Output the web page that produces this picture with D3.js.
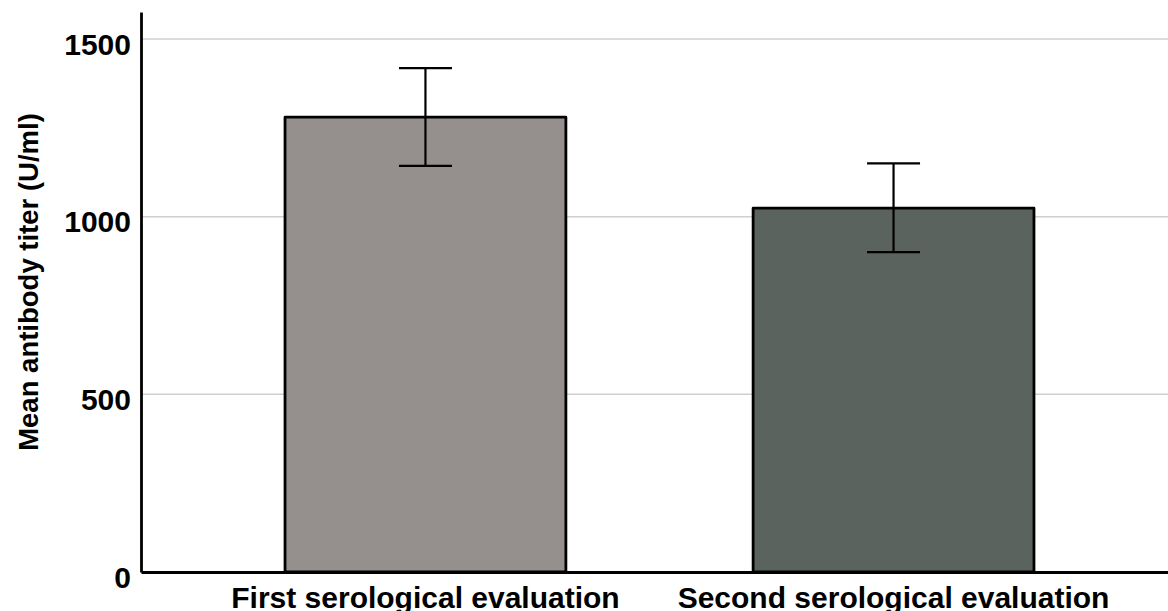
<!DOCTYPE html>
<html>
<head>
<meta charset="utf-8">
<script src="https://cdn.jsdelivr.net/npm/d3@7"></script>
<style>
  body { margin: 0; background: #fff; }
  text { font-family: "Liberation Sans", Arial, sans-serif; font-weight: bold; fill: #000; }
</style>
</head>
<body>
<script>
  // data
  const groups = ["First serological evaluation", "Second serological evaluation"];
  const means = [1280, 1024];
  const lower = [1143, 900];
  const upper = [1418, 1150];
  const yTicks = [0, 500, 1000, 1500];
  const barColors = ["#958f8e", "#5a635d"];

  const w = 1168;
  const h = 611;
  const plotLeft = 141;
  const plotBottom = 572;
  const plotTop = 12;

  const x = d3.scaleBand()
              .domain(groups)
              .range([plotLeft, 1178])
              .paddingInner(0.4)
              .paddingOuter(0.3077);

  const y = d3.scaleLinear()
              .domain([0, 1576])
              .range([plotBottom, plotTop]);

  const svg = d3.select("body")
                .append("svg")
                .attr("width", w)
                .attr("height", h);

  // grid lines
  svg.selectAll("line.grid")
     .data(yTicks.filter(t => t > 0))
     .enter()
     .append("line")
     .attr("class", "grid")
     .attr("x1", plotLeft)
     .attr("x2", w)
     .attr("y1", d => y(d))
     .attr("y2", d => y(d))
     .attr("stroke", "#cfcfcf")
     .attr("stroke-width", 1.5);

  // bars
  svg.selectAll("rect.bar")
     .data(groups)
     .enter()
     .append("rect")
     .attr("class", "bar")
     .attr("x", d => x(d))
     .attr("y", (d, i) => y(means[i]))
     .attr("width", x.bandwidth())
     .attr("height", (d, i) => y(0) - y(means[i]))
     .attr("fill", (d, i) => barColors[i])
     .attr("stroke", "#000")
     .attr("stroke-width", 2.8)
     .attr("stroke-linejoin", "round");

  // error bars
  const capW = 53;
  const err = svg.selectAll("g.err")
                 .data(groups)
                 .enter()
                 .append("g")
                 .attr("class", "err")
                 .attr("stroke", "#000")
                 .attr("stroke-width", 2.2);

  err.append("line")
     .attr("x1", d => x(d) + x.bandwidth() / 2)
     .attr("x2", d => x(d) + x.bandwidth() / 2)
     .attr("y1", (d, i) => y(lower[i]))
     .attr("y2", (d, i) => y(upper[i]));

  err.append("line")
     .attr("x1", d => x(d) + x.bandwidth() / 2 - capW / 2)
     .attr("x2", d => x(d) + x.bandwidth() / 2 + capW / 2)
     .attr("y1", (d, i) => y(upper[i]))
     .attr("y2", (d, i) => y(upper[i]));

  err.append("line")
     .attr("x1", d => x(d) + x.bandwidth() / 2 - capW / 2)
     .attr("x2", d => x(d) + x.bandwidth() / 2 + capW / 2)
     .attr("y1", (d, i) => y(lower[i]))
     .attr("y2", (d, i) => y(lower[i]));

  // y axis
  const yAxis = svg.append("g")
                   .attr("transform", `translate(${plotLeft},0)`)
                   .call(d3.axisLeft(y).tickValues(yTicks).tickFormat(d3.format("d")).tickSize(0).tickPadding(10));
  yAxis.select(".domain").attr("stroke", "#000").attr("stroke-width", 2.8);
  yAxis.selectAll("text")
       .attr("font-size", 30)
       .attr("font-family", "Liberation Sans, Arial, sans-serif")
       .attr("font-weight", "bold")
       .attr("dy", "0.5em");

  // x axis
  const xAxis = svg.append("g")
                   .attr("transform", `translate(0,${plotBottom})`)
                   .call(d3.axisBottom(x).tickSize(0).tickPadding(15));
  xAxis.select(".domain").attr("stroke", "#000").attr("stroke-width", 2.8);
  xAxis.selectAll("text")
       .attr("font-size", 30)
       .attr("font-family", "Liberation Sans, Arial, sans-serif")
       .attr("font-weight", "bold");

  // y title
  svg.append("text")
     .attr("transform", `translate(38,${(plotTop + plotBottom) / 2 - 10}) rotate(-90)`)
     .attr("text-anchor", "middle")
     .attr("font-size", 27.5)
     .text("Mean antibody titer (U/ml)");
</script>
</body>
</html>
